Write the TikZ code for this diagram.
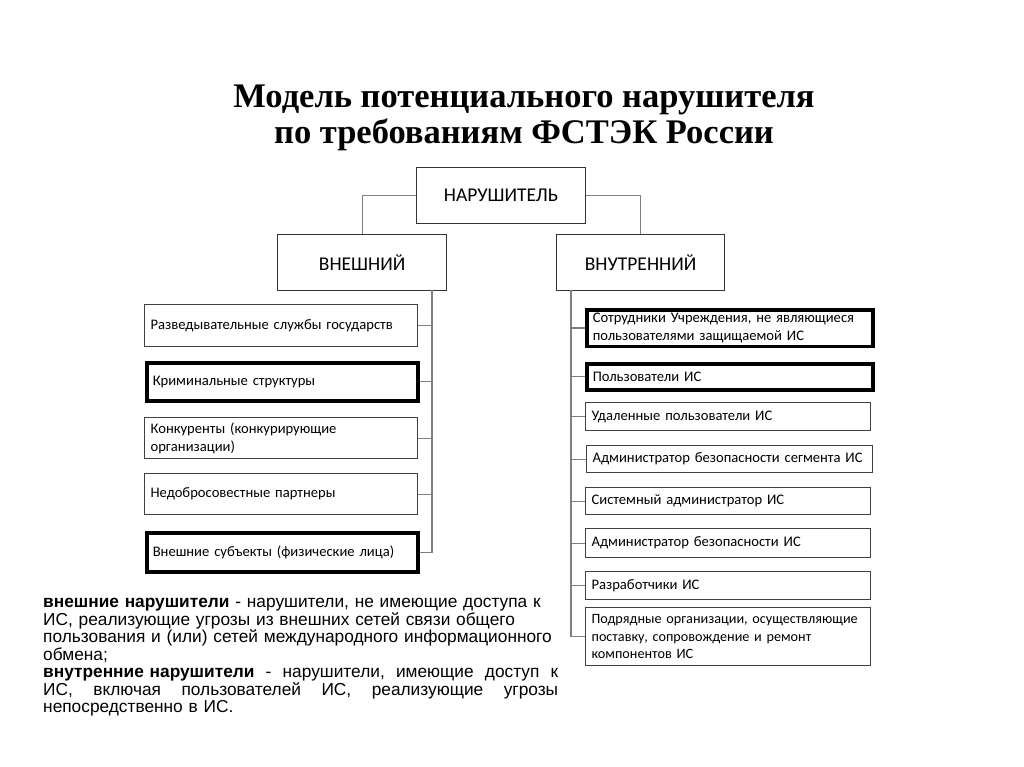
\documentclass[tikz,border=0pt]{standalone}
\usepackage{fontspec}
\setmainfont{Carlito}
\newfontfamily\titlefont{Liberation Serif}
\newfontfamily\arialfont{Liberation Sans}
\begin{document}
\begin{tikzpicture}[x=1pt,y=-1pt,
  thinbox/.style={draw=black!75, line width=1.2pt, fill=white, inner xsep=6pt, inner ysep=0pt,
    anchor=north west, align=left, font=\fontsize{14.6}{18}\selectfont},
  thickbox/.style={thinbox, draw=black, line width=3.5pt},
  headbox/.style={draw=black!80, line width=1.2pt, fill=white, anchor=north west,
    font=\fontsize{19.5}{22}\selectfont, inner sep=0pt},
  conn/.style={draw=black!50, line width=1.1pt}]
\useasboundingbox (0,0) rectangle (1024,767);
\fill[white] (0,0) rectangle (1024,767);

% title
\node[font=\titlefont\bfseries\fontsize{34.5}{36}\selectfont, align=center] (title) at (524,118)
  {Модель потенциального нарушителя\\по требованиям ФСТЭК России};

% header boxes
\node[headbox, minimum width=169pt, minimum height=56pt] (nar) at (416,167) {НАРУШИТЕЛЬ};
\node[headbox, minimum width=169pt, minimum height=56pt] (ext) at (277,234) {ВНЕШНИЙ};
\node[headbox, minimum width=168pt, minimum height=56pt] (int) at (556,234) {ВНУТРЕННИЙ};

% left children
\node[thinbox,  text width=261pt, minimum height=42pt] (l1) at (144,304) {Разведывательные службы государств};
\node[thickbox, text width=259pt, minimum height=38pt] (l2) at (145,361) {Криминальные структуры};
\node[thinbox,  text width=261pt, minimum height=41pt] (l3) at (144,417) {Конкуренты (конкурирующие\\организации)};
\node[thinbox,  text width=261pt, minimum height=41pt] (l4) at (144,473) {Недобросовестные партнеры};
\node[thickbox, text width=259pt, minimum height=39pt] (l5) at (145,531) {Внешние субъекты (физические лица)};

% right children
\node[thickbox, text width=274pt, minimum height=36.5pt] (r1) at (585,308) {Сотрудники Учреждения, не являющиеся\\пользователями защищаемой ИС};
\node[thickbox, text width=274pt, minimum height=26pt] (r2) at (585,362) {Пользователи ИС};
\node[thinbox,  text width=273pt, minimum height=28pt] (r3) at (585,402) {Удаленные пользователи ИС};
\node[thinbox,  text width=274pt, minimum height=27pt] (r4) at (586,445) {Администратор безопасности сегмента ИС};
\node[thinbox,  text width=273pt, minimum height=27pt] (r5) at (585,487) {Системный администратор ИС};
\node[thinbox,  text width=273pt, minimum height=29pt] (r6) at (585,528) {Администратор безопасности ИС};
\node[thinbox,  text width=273pt, minimum height=28pt] (r7) at (585,571) {Разработчики ИС};
\node[thinbox,  text width=273pt, minimum height=58pt, font=\fontsize{14.2}{17.5}\selectfont] (r8) at (585,607) {Подрядные организации, осуществляющие\\поставку, сопровождение и ремонт\\компонентов ИС};

% connectors
\draw[conn] (nar.west) -| (ext.north);
\draw[conn] (nar.east) -| (int.north);
\coordinate (lt) at (432,290);
\coordinate (rt) at (571,290);
\foreach \n in {l1,l2,l3,l4,l5} \draw[conn] (lt) |- (\n.east);
\foreach \n in {r1,r2,r3,r4,r5,r6,r7,r8} \draw[conn] (rt) |- (\n.west);

% description
\node[anchor=north west, inner sep=0pt, text width=515pt, align=left,
  font=\arialfont\fontsize{17.3}{17.5}\selectfont] (desc) at (43,598)
  {\textbf{внешние нарушители} - нарушители, не имеющие доступа к\\
   ИС, реализующие угрозы из внешних сетей связи общего\\
   пользования и (или) сетей международного информационного\\
   обмена;\\
   \makebox[515pt][l]{\textbf{внутренние нарушители}\hfill-\hfill нарушители,\hfill имеющие\hfill доступ\hfill к}\\
   \makebox[515pt][l]{ИС,\hfill включая\hfill пользователей\hfill ИС,\hfill реализующие\hfill угрозы}\\
   непосредственно в ИС.};
\end{tikzpicture}
\end{document}
